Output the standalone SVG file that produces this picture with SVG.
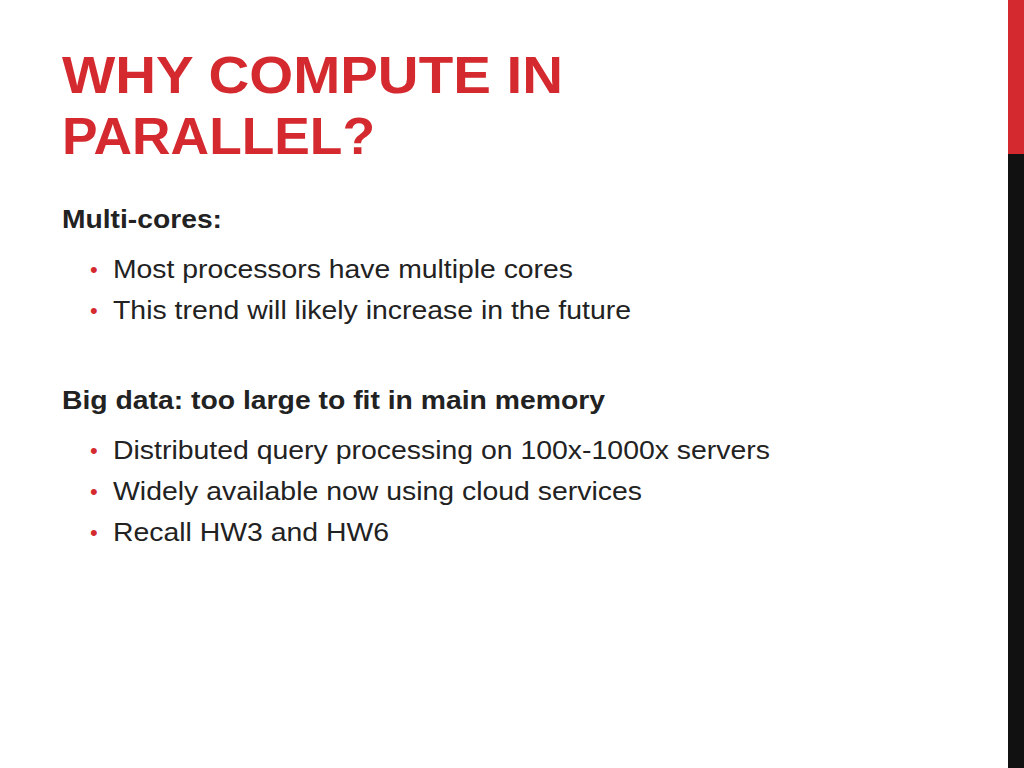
<svg xmlns="http://www.w3.org/2000/svg" width="1024" height="768" viewBox="0 0 1024 768">
<style>
.t{font-family:"Liberation Sans",Arial,sans-serif;font-weight:bold;fill:#D42A2F;font-size:52px}
.h{font-family:"Liberation Sans",Arial,sans-serif;font-weight:bold;fill:#222;font-size:25px}
.b{font-family:"Liberation Sans",Arial,sans-serif;fill:#222;font-size:26px}
.d{font-family:"Liberation Sans",Arial,sans-serif;fill:#D42A2F;font-size:22px}
</style>
<rect width="1024" height="768" fill="#fff"/>
<rect x="1008" y="0" width="16" height="154" fill="#D42A2F"/>
<rect x="1008" y="154" width="16" height="614" fill="#111"/>
<text class="t" x="62" y="93" textLength="501" lengthAdjust="spacingAndGlyphs">WHY COMPUTE IN</text>
<text class="t" x="62" y="154" textLength="313" lengthAdjust="spacingAndGlyphs">PARALLEL?</text>
<text class="h" x="62" y="228" textLength="160" lengthAdjust="spacingAndGlyphs">Multi-cores:</text>
<text class="d" x="90" y="277">•</text>
<text class="b" x="113" y="278" textLength="460" lengthAdjust="spacingAndGlyphs">Most processors have multiple cores</text>
<text class="d" x="90" y="318">•</text>
<text class="b" x="113" y="319" textLength="518" lengthAdjust="spacingAndGlyphs">This trend will likely increase in the future</text>
<text class="h" x="62" y="409" textLength="543" lengthAdjust="spacingAndGlyphs">Big data: too large to fit in main memory</text>
<text class="d" x="90" y="458">•</text>
<text class="b" x="113" y="459" textLength="657" lengthAdjust="spacingAndGlyphs">Distributed query processing on 100x-1000x servers</text>
<text class="d" x="90" y="499">•</text>
<text class="b" x="113" y="500" textLength="529" lengthAdjust="spacingAndGlyphs">Widely available now using cloud services</text>
<text class="d" x="90" y="540">•</text>
<text class="b" x="113" y="541" textLength="276" lengthAdjust="spacingAndGlyphs">Recall HW3 and HW6</text>
</svg>
